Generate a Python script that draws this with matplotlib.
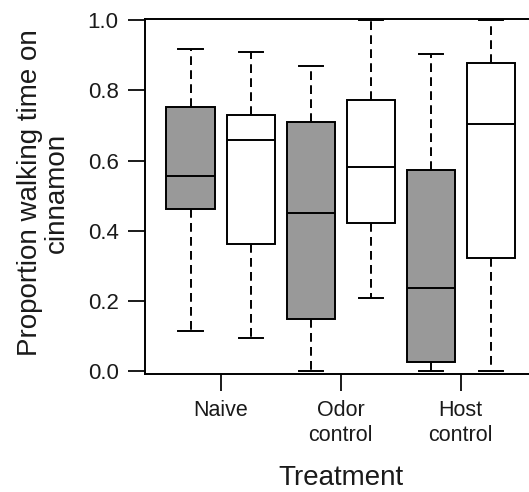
import matplotlib.pyplot as plt

plt.rcParams['font.family'] = ['Liberation Sans', 'DejaVu Sans']

# Box statistics per treatment, two groups each (filled grey, open white)
groups = ['Naive', 'Odor\ncontrol', 'Host\ncontrol']
whislo = [0.116, 0.094, 0.000, 0.208, 0.000, 0.000]
q1 = [0.461, 0.364, 0.150, 0.422, 0.026, 0.322]
med = [0.556, 0.659, 0.452, 0.581, 0.238, 0.704]
q3 = [0.752, 0.730, 0.709, 0.772, 0.574, 0.877]
whishi = [0.917, 0.910, 0.870, 1.000, 0.902, 1.000]
fills = ['#999999', 'white'] * 3

stats = []
for i in range(6):
    stats.append(dict(whislo=whislo[i], q1=q1[i], med=med[i],
                      q3=q3[i], whishi=whishi[i], fliers=[]))

fig = plt.figure(figsize=(5.29, 4.92), dpi=100)
ax = fig.add_axes([145 / 529, 1 - 374.3 / 492, 391 / 529, 355.3 / 492])

lw = 1.4
positions = [1, 2, 3, 4, 5, 6]
bp = ax.bxp(stats, positions=positions, widths=0.8, capwidths=0.4,
            patch_artist=True, showfliers=False,
            boxprops=dict(linewidth=lw, edgecolor='black'),
            medianprops=dict(color='black', linewidth=lw),
            whiskerprops=dict(color='black', linewidth=lw,
                              linestyle=(0, (4.5, 2.7))),
            capprops=dict(color='black', linewidth=lw))
for patch, c in zip(bp['boxes'], fills):
    patch.set_facecolor(c)

ax.set_xlim(0.2417, 6.758)
ax.set_ylim(-0.008, 1.003)

ax.set_xticks([1.5, 3.5, 5.5])
ax.set_xticklabels(groups, fontsize=15.5, linespacing=1.25)
ax.set_yticks([0, 0.2, 0.4, 0.6, 0.8, 1.0])
ax.set_yticklabels(['0.0', '0.2', '0.4', '0.6', '0.8', '1.0'], fontsize=16)
ax.tick_params(length=12, width=lw, pad=6.5, colors='#1a1a1a')
ax.tick_params(axis='y', pad=7)

for s in ax.spines.values():
    s.set_linewidth(lw)
ax.spines['right'].set_visible(False)

fig.text(340.5 / 529, 1 - 478 / 492, 'Treatment', ha='center', va='center',
         fontsize=20, color='#1a1a1a')
fig.text(43.5 / 529, 1 - 193 / 492, 'Proportion walking time on\ncinnamon',
         ha='center', va='center', rotation=90, multialignment='center',
         fontsize=20, linespacing=1.08, color='#1a1a1a')

fig.savefig('out.png', dpi=100)
